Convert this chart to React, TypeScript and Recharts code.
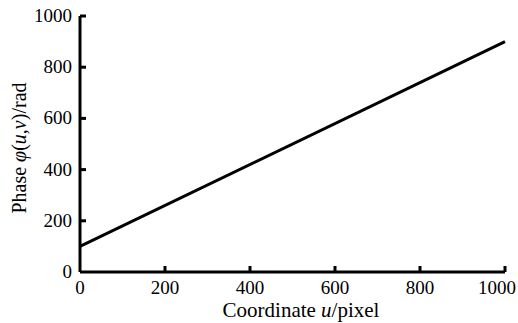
import React from 'react';
import { LineChart, Line, XAxis, YAxis, Label } from 'recharts';

// phase grows linearly across the image
const coordU = [0, 1000];
const phaseValues = [100, 900];
const xTicks = [0, 200, 400, 600, 800, 1000];
const yTicks = [0, 200, 400, 600, 800, 1000];

const data = coordU.map((u, i) => ({ u, phase: phaseValues[i] }));

const FONT = '"Liberation Serif", "Times New Roman", serif';

const XTick = (props: any) => {
  const { x, y, payload } = props;
  // last label is pulled in a bit so it stays inside the frame
  const dx = payload.value === 1000 ? -8 : 0;
  return (
    <g>
      {payload.value !== 0 && <line x1={x} y1={y} x2={x} y2={y - 6} stroke="#000" strokeWidth={3} />}
      <text x={x + dx} y={y + 22} textAnchor="middle" fontSize={19} style={{ fontFamily: FONT }} fill="#000">
        {payload.value}
      </text>
    </g>
  );
};

const YTick = (props: any) => {
  const { x, y, payload } = props;
  return (
    <g>
      {payload.value !== 0 && <line x1={x} y1={y} x2={x + 6} y2={y} stroke="#000" strokeWidth={3} />}
      <text x={x - 8} y={y + 6} textAnchor="end" fontSize={19} style={{ fontFamily: FONT }} fill="#000">
        {payload.value}
      </text>
    </g>
  );
};

const App: React.FC = () => {
  return (
    <div style={{ width: 518, height: 323, background: '#fff' }}>
      <style>{'body{margin:0}'}</style>
      <LineChart
        width={518}
        height={323}
        data={data}
        margin={{ top: 16, right: 13, left: 0, bottom: 0 }}
      >
        <XAxis
          dataKey="u"
          type="number"
          domain={[0, 1000]}
          ticks={xTicks}
          tickSize={0}
          tickMargin={0}
          tickLine={false}
          tick={<XTick />}
          height={51}
          axisLine={{ stroke: '#000', strokeWidth: 3 }}
          interval={0}
        >
          <Label
            content={() => (
              <text x={301} y={317} textAnchor="middle" fontSize={21} style={{ fontFamily: FONT }} fill="#000">
                Coordinate <tspan fontStyle="italic">u</tspan>/pixel
              </text>
            )}
          />
        </XAxis>
        <YAxis
          type="number"
          domain={[0, 1000]}
          ticks={yTicks}
          tickSize={0}
          tickMargin={0}
          tickLine={false}
          tick={<YTick />}
          width={80}
          axisLine={{ stroke: '#000', strokeWidth: 3 }}
          interval={0}
        >
          <Label
            content={() => (
              <text
                x={26}
                y={148}
                transform="rotate(-90, 26, 148)"
                textAnchor="middle"
                fontSize={20}
                style={{ fontFamily: FONT }}
                fill="#000"
              >
                Phase <tspan fontStyle="italic">φ</tspan>(<tspan fontStyle="italic">u</tspan>,<tspan fontStyle="italic">v</tspan>)/rad
              </text>
            )}
          />
        </YAxis>
        <Line
          dataKey="phase"
          stroke="#000"
          strokeWidth={3}
          dot={false}
          isAnimationActive={false}
        />
      </LineChart>
    </div>
  );
};

export default App;
